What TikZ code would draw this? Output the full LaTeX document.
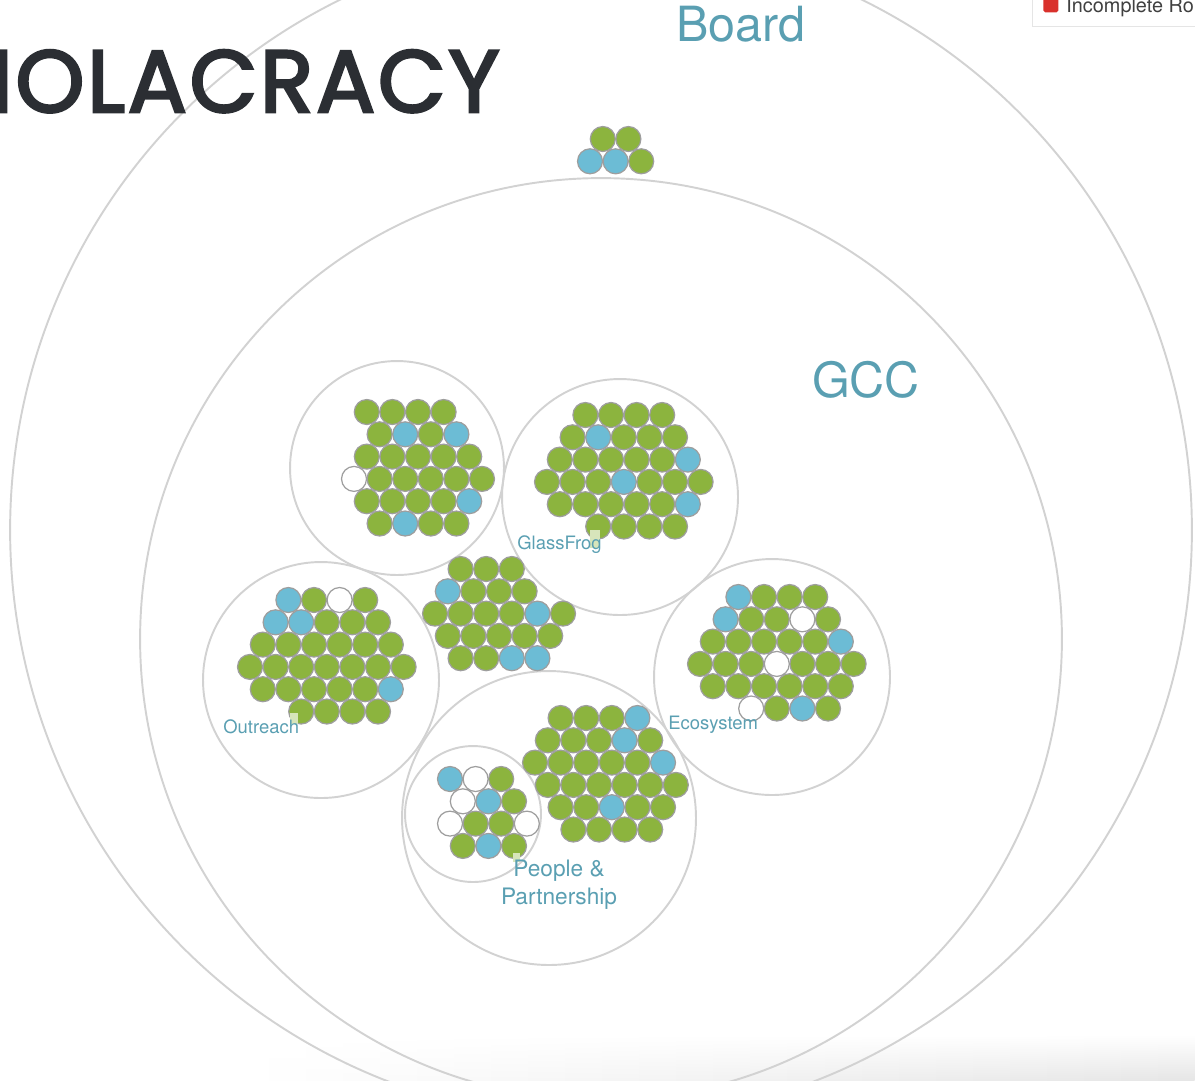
\documentclass[tikz,border=0pt]{standalone}
\usepackage{fontspec}
\setmainfont{TeX Gyre Heros}
\newfontfamily\logofont{Poppins}[FakeBold=3, LetterSpace=3]
\usepackage{tikz}
\usetikzlibrary{positioning, calc, fadings}

\definecolor{G}{HTML}{8CB43E}         % filled role
\definecolor{B}{HTML}{6CBCD5}         % lead link
\definecolor{W}{HTML}{FFFFFF}         % unfilled role
\definecolor{ring}{HTML}{D2D2D2}
\definecolor{rim}{HTML}{9E9E9E}
\definecolor{labelblue}{HTML}{5A9FB2}
\definecolor{ink}{HTML}{2B2E33}
\definecolor{alert}{HTML}{D9312C}

\tikzset{
    circlebox/.style={ % Sets the properties for each circle
        circle,
        draw=ring,
        line width=1.1pt,
        inner sep=0pt
    },
    role/.style={ % Sets the properties for each role
        circle,
        draw=rim,
        line width=0.7pt,
        inner sep=0pt,
        minimum size=0.5cm
    },
    circlename/.style={ % Small circle names
        text=labelblue,
        inner sep=0pt,
        anchor=base west,
        font=\fontsize{10.5}{12}\selectfont
    },
    bigname/.style={ % Board and GCC
        text=labelblue,
        inner sep=0pt,
        anchor=base,
        font=\fontsize{27.6}{32}\selectfont
    }
}

% name, first slot x, first slot y, rows as row/half-column/{colours}
\newcommand{\rolegrid}[4]{%
    \foreach \r/\k/\cols in {#4} {
        \foreach \c [count=\i from 0] in \cols {
            \node[role, fill=\c] (#1-\r-\i) at ({#2+(\k+2*\i)*12.8}, {#3+\r*22.3}) {};
        }
    }
}

\begin{document}
\begin{tikzpicture}[x=0.02cm, y=-0.02cm]
            \useasboundingbox (0,0) rectangle (1195,1080);
            \clip (0,0) rectangle (1195,1080);
            % bottom shadow
            \shade[left color=white, right color=black!10, path fading=north]
                    (250,1035) rectangle (1195,1080);
            % circles
            \node[circlebox, minimum size=23.64cm]  (board)     at (601,530) {};
            \node[circlebox, minimum size=18.44cm]  (gcc)       at (601,639) {};
            \node[circlebox, minimum size=4.28cm]   (unnamed)   at (397,468) {};
            \node[circlebox, minimum size=4.72cm]   (glassfrog) at (620,497) {};
            \node[circlebox, minimum size=4.72cm]   (outreach)  at (321,680) {};
            \node[circlebox, minimum size=4.72cm]   (ecosystem) at (772,677) {};
            \node[circlebox, minimum size=5.88cm]   (people)    at (549,818) {};
            \node[circlebox, minimum size=2.72cm]   (peoplein)  at (473,814) {};
            % roles
            \rolegrid{br}{590}{139}{0/1/{G,G}, 1/0/{B,B,G}}
            \rolegrid{un}{354}{412}{0/1/{G,G,G,G}, 1/2/{G,B,G,B}, 2/1/{G,G,G,G,G},
                    3/0/{W,G,G,G,G,G}, 4/1/{G,G,G,G,B}, 5/2/{G,B,G,G}}
            \rolegrid{gf}{547}{415}{0/3/{G,G,G,G}, 1/2/{G,B,G,G,G}, 2/1/{G,G,G,G,G,B},
                    3/0/{G,G,G,B,G,G,G}, 4/1/{G,G,G,G,G,B}, 5/4/{G,G,G,G}}
            \rolegrid{ou}{250}{600}{0/3/{B,G,W,G}, 1/2/{B,B,G,G,G}, 2/1/{G,G,G,G,G,G},
                    3/0/{G,G,G,G,G,G,G}, 4/1/{G,G,G,G,G,B}, 5/4/{G,G,G,G}}
            \rolegrid{md}{435}{569}{0/2/{G,G,G}, 1/1/{B,G,G,G}, 2/0/{G,G,G,G,B,G},
                    3/1/{G,G,G,G,G}, 4/2/{G,G,B,B}}
            \rolegrid{ec}{700}{597}{0/3/{B,G,G,G}, 1/2/{B,G,G,W,G}, 2/1/{G,G,G,G,G,B},
                    3/0/{G,G,G,W,G,G,G}, 4/1/{G,G,G,G,G,G}, 5/4/{W,G,B,G}}
            \rolegrid{pp}{535}{718}{0/2/{G,G,G,B}, 1/1/{G,G,G,B,G}, 2/0/{G,G,G,G,G,B},
                    3/1/{G,G,G,G,G,G}, 4/2/{G,G,B,G,G}, 5/3/{G,G,G,G}}
            \rolegrid{pi}{450}{779}{0/0/{B,W,G}, 1/1/{W,B,G}, 2/0/{W,G,G,W}, 3/1/{G,B,G}}
            % label marks
            \fill[G!35] (590,530) rectangle (600,548);
            \fill[G!35] (290,713) rectangle (298,724);
            \fill[G!35] (513,853) rectangle (520,862);
            % names
            \node[bigname]                     (boardname) at (741,41)  {Board};
            \node[bigname]                     (gccname)   at (866,397) {GCC};
            \node[circlename]                  (gfname)    at (517,549) {GlassFrog};
            \node[circlename]                  (ouname)    at (223,733) {Outreach};
            \node[circlename]                  (ecname)    at (668,729) {Ecosystem};
            \node[text=labelblue, inner sep=0pt, anchor=north, align=center,
                  font=\fontsize{12.9}{15.9}\selectfont]
                                               (ppname)    at (559,860) {People \&\\Partnership};
            % logo
            \node[anchor=base east, inner sep=0pt, text=ink,
                  font=\logofont\fontsize{50}{60}\selectfont]
                                               (logo)      at (500,112) {HOLACRACY};
            % legend
            \node[draw=black!10, line width=0.8pt, fill=white, anchor=south west,
                  minimum width=4cm, minimum height=1cm] (legend) at (1032,27) {};
            \node[fill=alert, rounded corners=1pt, minimum size=0.3cm, inner sep=0pt,
                  anchor=north west]           (incsq)     at (1043,-3) {};
            \node[anchor=base west, inner sep=0pt, text=black!75,
                  font=\fontsize{11.3}{13}\selectfont]
                                               (inctext)   at (1066,12) {Incomplete Roles};
\end{tikzpicture}
\end{document}
